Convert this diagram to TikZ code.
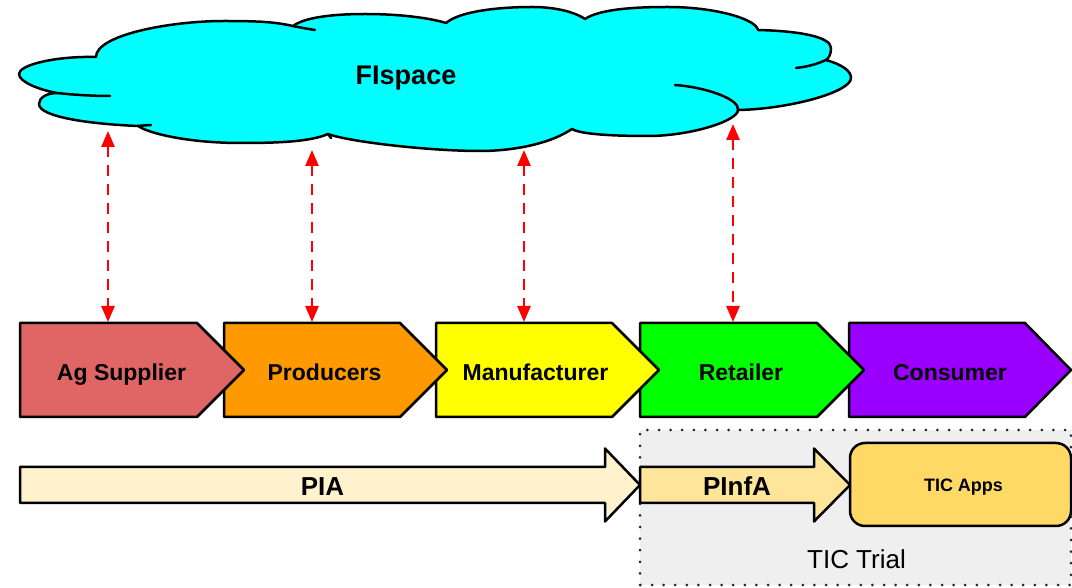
\documentclass[tikz,border=0pt]{standalone}
\usepackage{fontspec}
\setmainfont{Liberation Sans}
\usetikzlibrary{arrows.meta}
\definecolor{agc}{HTML}{E06666}
\definecolor{prc}{HTML}{FF9900}
\definecolor{mfc}{HTML}{FFFF00}
\definecolor{rtc}{HTML}{00FF00}
\definecolor{csc}{HTML}{9900FF}
\definecolor{cloudc}{HTML}{00FFFF}
\definecolor{piac}{HTML}{FFF2CC}
\definecolor{pinfac}{HTML}{FFE599}
\definecolor{appsc}{HTML}{FFD966}
\definecolor{trialc}{HTML}{EFEFEF}
\begin{document}
\begin{tikzpicture}[x=1pt,y=1pt,
  chev/.style={draw=black,line width=2.5pt,line join=round},
  lbl/.style={font=\fontsize{23}{27}\selectfont\bfseries,inner sep=0pt,anchor=base},
  biglbl/.style={font=\fontsize{26}{30}\selectfont\bfseries,inner sep=0pt,anchor=base},
  outl/.style={draw=black,line width=2.5pt,line join=round,line cap=round},
  dbl/.style={draw=red,line width=2.8pt,dash pattern=on 11pt off 8pt,
    {Triangle[length=16pt,width=13pt]}-{Triangle[length=16pt,width=13pt]}},
  trialbox/.style={draw=black!85,fill=trialc,line width=3pt,line cap=round,dash pattern=on 0pt off 11.6pt},
  appsbox/.style={draw=black,fill=appsc,line width=2.5pt,rounded corners=15pt,
    minimum width=221pt,minimum height=83pt,inner sep=0pt}
]
\useasboundingbox (0,0) rectangle (1072,587);

% ---------- cloud ----------
\path[outl,fill=cloudc]
  (96,530) .. controls (96,552) and (170,566) .. (224,566)
  .. controls (259,566) and (275,565) .. (293,561)
  .. controls (305,570) and (335,573) .. (365,573)
  .. controls (400,573) and (430,569) .. (446,564)
  .. controls (460,576) and (500,580) .. (532,580)
  .. controls (560,580) and (578,573) .. (585,568)
  .. controls (600,578) and (635,580) .. (668,580)
  .. controls (715,580) and (756,568) .. (758,557)
  .. controls (800,556) and (831,550) .. (831,539)
  .. controls (831,533) and (829,529) .. (826,527)
  .. controls (843,522) and (851,516) .. (851,509)
  .. controls (851,495) and (790,478) .. (738,477)
  .. controls (738,466) and (690,451) .. (648,451)
  .. controls (610,451) and (580,453) .. (572,458)
  .. controls (548,442) and (510,436) .. (480,436)
  .. controls (430,436) and (350,445) .. (328,453)
  .. controls (310,445) and (275,444) .. (241,444)
  .. controls (190,444) and (150,453) .. (138,461)
  .. controls (90,463) and (39,470) .. (39,483)
  .. controls (39,490) and (48,494) .. (57,494)
  .. controls (40,497) and (19,505) .. (19,513)
  .. controls (19,522) and (55,531) .. (96,530)
  -- cycle;
\draw[outl] (57,494) .. controls (75,492) and (95,491) .. (110,491);
\draw[outl] (293,561) .. controls (300,559.5) and (308,558) .. (315,557);
\draw[outl] (738,477) .. controls (740,488) and (705,500) .. (675,502);
\draw[outl] (826,527) .. controls (815,522) and (805,520) .. (796,519);
\draw[outl] (138,461) .. controls (143,461.5) .. (151,462);
\draw[outl] (328,453) -- (331,449);
\node[font=\fontsize{27}{31}\selectfont\bfseries,inner sep=0pt,anchor=base] (fi) at (406,502) {FIspace};

% ---------- chevrons (drawn right to left) ----------
\path[chev,fill=csc] (849,264) -- (1025,264) -- (1071,217) -- (1025,170) -- (849,170) -- cycle;
\path[chev,fill=rtc] (640,264) -- (817,264) -- (864,217) -- (817,170) -- (640,170) -- cycle;
\path[chev,fill=mfc] (436,264) -- (612,264) -- (659,217) -- (612,170) -- (436,170) -- cycle;
\path[chev,fill=prc] (224,264) -- (400,264) -- (447,217) -- (400,170) -- (224,170) -- cycle;
\path[chev,fill=agc] (20,264) -- (197,264) -- (244,217) -- (197,170) -- (20,170) -- cycle;
\node[lbl] (ag) at (121.5,206) {Ag Supplier};
\node[lbl] (pr) at (324.5,206) {Producers};
\node[lbl] (mf) at (535.5,206) {Manufacturer};
\node[lbl] (rt) at (741,206) {Retailer};
\node[lbl] (cs) at (950,206) {Consumer};

% ---------- double arrows ----------
\coordinate (s1) at (108,456); \coordinate (e1) at (108,265);
\coordinate (s2) at (312,437); \coordinate (e2) at (312,265);
\coordinate (s3) at (524,437); \coordinate (e3) at (524,265);
\coordinate (s4) at (733,463); \coordinate (e4) at (733,265);
\draw[dbl] (s1) -- (e1);
\draw[dbl] (s2) -- (e2);
\draw[dbl] (s3) -- (e3);
\draw[dbl] (s4) -- (e4);

% ---------- TIC trial ----------
\path[trialbox] (640,2) rectangle (1071,157);
\node[font=\fontsize{26}{30}\selectfont,inner sep=0pt,anchor=base] (trial) at (856.5,19) {TIC Trial};

% ---------- block arrows ----------
\path[chev,fill=piac] (20,120) -- (605,120) -- (605,138.5) -- (640,102) -- (605,65.5) -- (605,84) -- (20,84) -- cycle;
\path[chev,fill=pinfac] (640,120) -- (814,120) -- (814,138.5) -- (850,102) -- (814,65.5) -- (814,84) -- (640,84) -- cycle;
\node[biglbl] (pia) at (322.5,91) {PIA};
\node[biglbl] (pinfa) at (737,92) {PInfA};
\node[appsbox] (apps) at (960.5,102.5) {};
\node[font=\fontsize{18}{22}\selectfont\bfseries,inner sep=0pt,anchor=base] (appst) at (963.5,95.5) {TIC Apps};
\end{tikzpicture}
\end{document}
